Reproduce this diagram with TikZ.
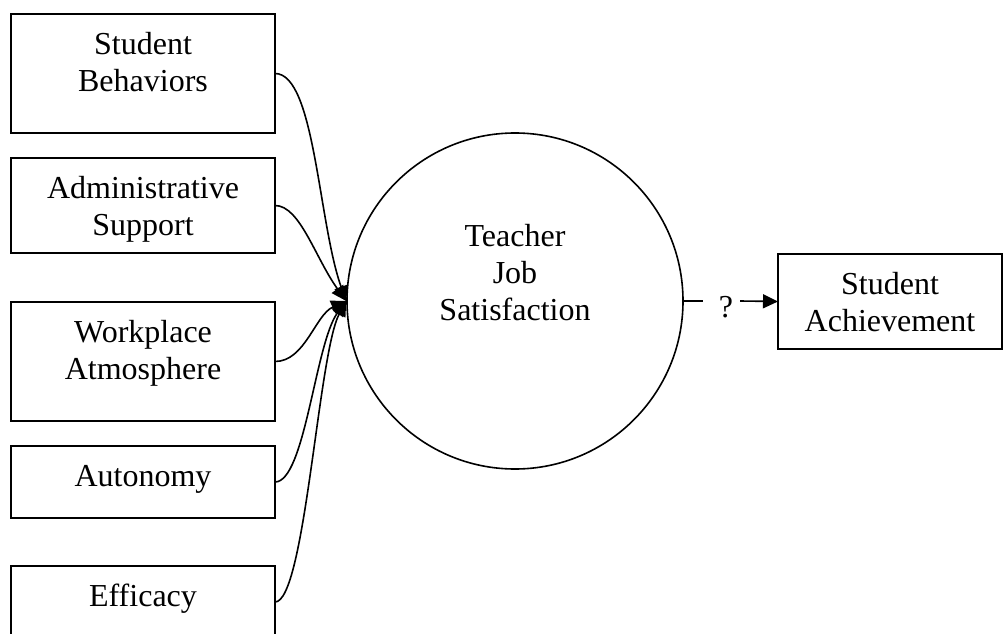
\documentclass[tikz,border=0pt]{standalone}
\usepackage{fontspec}
\setmainfont{Liberation Serif}
\usetikzlibrary{arrows.meta}
\begin{document}
\begin{tikzpicture}[x=1pt,y=1pt,
  box/.style={draw, line width=2pt, minimum width=264pt, inner sep=0pt, outer sep=0pt},
  lbl/.style={font=\fontsize{32}{37}\selectfont, align=center, inner sep=0pt, anchor=north},
  conn/.style={line width=1.6pt},
  tip/.style={-{Triangle[length=15pt,width=14pt]}}]
\useasboundingbox (0,0) rectangle (1006,633);
\clip (0,0) rectangle (1006,633);
% left boxes
\node[box, minimum height=119pt] (sb) at (143,559.5) {};
\node[box, minimum height=95pt]  (as) at (143,427.5) {};
\node[box, minimum height=119pt] (wa) at (143,271.5) {};
\node[box, minimum height=72pt]  (au) at (143,151) {};
\node[box, minimum height=72pt]  (ef) at (143,31) {};
\node[lbl] (sbt) at ([yshift=-14.1pt]sb.north) {\strut Student\\Behaviors};
\node[lbl] (ast) at ([yshift=-14.1pt]as.north) {\strut Administrative\\Support};
\node[lbl] (wat) at ([yshift=-14.1pt]wa.north) {\strut Workplace\\Atmosphere};
\node[lbl] (aut) at ([yshift=-14.1pt]au.north) {\strut Autonomy};
\node[lbl] (eft) at ([yshift=-14.1pt]ef.north) {\strut Efficacy};
% circle
\node[draw, circle, line width=1.6pt, minimum size=336pt, inner sep=0pt] (tjs) at (515,332) {};
\node[lbl] (tjst) at (515,412.9) {\strut Teacher\\Job\\Satisfaction};
% outcome box
\node[box, minimum width=224pt, minimum height=95pt] (sa) at (890,331.5) {};
\node[lbl] (sat) at ([yshift=-14.1pt]sa.north) {\strut Student\\Achievement};
% question mark
\node[font=\fontsize{32}{37}\selectfont, inner sep=0pt, minimum width=37pt, text height=32pt, text depth=0pt] (q) at (721.5,332) {\hspace*{9pt}?};
% connectors
\draw[conn,tip] (sb.east) .. controls +(40,0) and +(-28,78) .. (tjs.west);
\draw[conn,tip] (as.east) .. controls +(25,0) and +(-31,43) .. (tjs.west);
\draw[conn,tip] (wa.east) .. controls +(30,0) and +(-31,-14) .. (tjs.west);
\draw[conn,tip] (au.east) .. controls +(30,0) and +(-31,-42) .. (tjs.west);
\draw[conn,tip] (ef.east) .. controls +(30,0) and +(-28,-52) .. (tjs.west);
\draw[conn] (tjs.east) -- (q.west);
\draw[conn,tip] (q.east) -- (sa.west);
\end{tikzpicture}
\end{document}
